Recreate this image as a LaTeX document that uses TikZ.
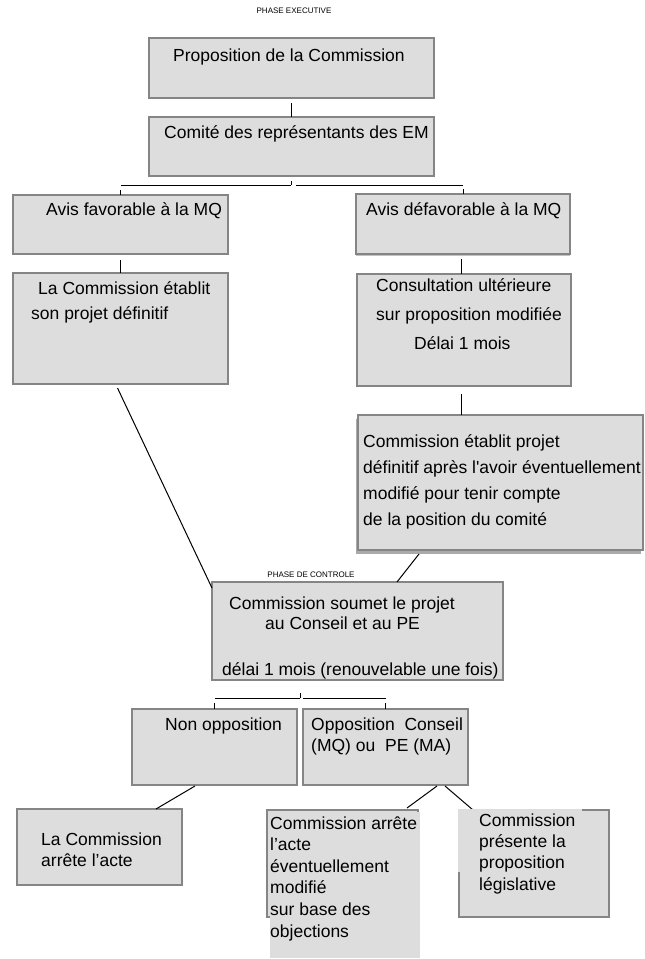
\documentclass[tikz,border=0pt]{standalone}
\usepackage{fontspec}
\newfontfamily\arialfont{Liberation Sans}
\usepackage{tikz}
\usetikzlibrary{calc}
\usetikzlibrary{shadows}
\definecolor{boxfill}{HTML}{DDDDDD}
\definecolor{boxline}{HTML}{858585}
\tikzset{
   box/.style={draw=boxline, fill=boxfill, line width=1.5pt, anchor=north west,
           inner sep=0pt, outer sep=0pt,
   },
   txt/.style={anchor=base west, inner sep=0pt, align=left,
           font=\arialfont\fontsize{17.5}{#1}\selectfont},
   txt/.default=21,
   phase/.style={anchor=base, inner sep=0pt, font=\arialfont\fontsize{8}{9}\selectfont},
   link/.style={line width=1pt, black},
}

\begin{document}
\begin{tikzpicture}[x=1pt, y=-1pt]
    \useasboundingbox (0,0) rectangle (645,959);

    \node[phase] (execlab) at (294,13) {PHASE EXECUTIVE};

    \node[box, minimum width=285pt, minimum height=60pt] (prop) at (149,38) {};
    \node[box, minimum width=285pt, minimum height=59pt] (comite) at (149,117) {};
    \node[box, minimum width=215pt, minimum height=59pt] (favor) at (13,195) {};
    \node[box, minimum width=214pt, minimum height=60pt,
          drop shadow={shadow xshift=0pt, shadow yshift=-2pt, fill=boxline!50, opacity=1}] (defav) at (356,194) {};
    \node[box, minimum width=215pt, minimum height=111pt] (etablit) at (13,273) {};
    \node[box, minimum width=214pt, minimum height=112pt] (consult) at (357,274) {};
    \node[box, minimum width=285pt, minimum height=135pt,
          drop shadow={shadow xshift=-2pt, shadow yshift=-4pt, fill=boxline!70, opacity=1}] (projet) at (358,415) {};

    \node[phase] (ctrllab) at (311,577) {PHASE DE CONTROLE};

    \node[box, minimum width=291pt, minimum height=98pt] (soumet) at (212,582) {};
    \node[box, minimum width=165pt, minimum height=76pt] (nonopp) at (132,709) {};
    \node[box, minimum width=165pt, minimum height=76pt] (opp) at (303,709) {};
    \node[box, minimum width=165pt, minimum height=76pt] (acte) at (17,809) {};
    \node[box, minimum width=151pt, minimum height=107pt] (amend) at (267,810) {};
    \node[box, minimum width=150pt, minimum height=107pt] (presente) at (459,810) {};

    % executive phase links
    \draw[link] ([yshift=-5pt]prop.south) -- (comite.north);
    \coordinate (fork1) at (291,185);
    \draw[link] (fork1) -- ++(0,-4);
    \draw[link] (fork1) -- (fork1 -| favor.north);
    \draw[link] ([xshift=5pt]fork1) -- (fork1 -| defav.north);
    \draw[link] (favor.north) -- ++(0,-5);
    \draw[link] (defav.north) -- ++(0,-5);
    \draw[link] ([yshift=-6pt]favor.south) -- (etablit.north);
    \draw[link] ([xshift=-2pt,yshift=-5pt]defav.south) -- ([xshift=-2pt]defav.south |- consult.north);
    \draw[link] ([xshift=-3pt,yshift=-8pt]consult.south) -- ([xshift=-3pt]consult.south |- projet.north);
    \draw[link] ([xshift=-3pt,yshift=-4pt]etablit.south) -- ([yshift=-6pt]soumet.north west);
    \draw[link] ($(projet.south west)+(61,4)$) -- ($(soumet.north west)+(185,0)$);

    % control phase links
    \coordinate (fork2) at (300,698);
    \draw[link] (fork2) -- ++(0,-5);
    \draw[link] (fork2) -- (fork2 -| nonopp.north);
    \draw[link] ([xshift=3pt]fork2) -- (fork2 -| opp.north);
    \draw[link] (nonopp.north) -- ++(0,-6);
    \draw[link] (opp.north) -- ++(0,-6);
    \draw[link] ($(nonopp.south west)+(63,1)$) -- ($(acte.north west)+(139,0)$);
    \draw[link] ($(opp.south west)+(134,1)$) -- ($(amend.north west)+(140,-2)$);
    \draw[link] ($(opp.south west)+(142,1)$) -- ($(presente.north west)+(14,0)$);

    % text frames lying over the last two boxes
    \fill[boxfill] (269.5,812) rectangle (420,958);
    \fill[boxfill] (457.5,808.5) rectangle (582,872);

    \node[txt] (tprop) at (173,61.5) {Proposition de la Commission};
    \node[txt] (tcomite) at (164,138.5) {Comité des représentants des EM};
    \node[txt] (tfavor) at (46,215.5) {Avis favorable à la MQ};
    \node[txt] (tdefav) at (366,215.5) {Avis défavorable à la MQ};
    \node[txt=25] (tetablit) at (31,319.5) {\hspace*{7pt}La Commission établit\\son projet définitif};
    \node[txt=29] (tconsult) at (376,349.5) {Consultation ultérieure\\sur proposition modifiée\\\hspace*{38pt}Délai 1 mois};
    \node[txt=25.7] (tprojet) at (363,525) {Commission établit projet\\définitif après l'avoir éventuellement\\modifié pour tenir compte\\de la position du comité};
    \node[txt=20] (tsoumet) at (222,675.5) {\hspace*{7pt}Commission soumet le projet\\\hspace*{43pt}au Conseil et au PE\\[26pt]délai 1 mois (renouvelable une fois)};
    \node[txt] (tnonopp) at (165,730.5) {Non opposition};
    \node[txt] (topp) at (311,751.5) {Opposition\ \ Conseil\\(MQ) ou\ \ PE (MA)};
    \node[txt] (tacte) at (41,866.5) {La Commission\\arrête l’acte};
    \node[txt=21.6] (tamend) at (270,937) {Commission arrête\\l’acte\\éventuellement\\modifié\\sur base des\\objections};
    \node[txt=21.3] (tpresente) at (479,890) {Commission\\présente la\\proposition\\législative};

\end{tikzpicture}
\end{document}
